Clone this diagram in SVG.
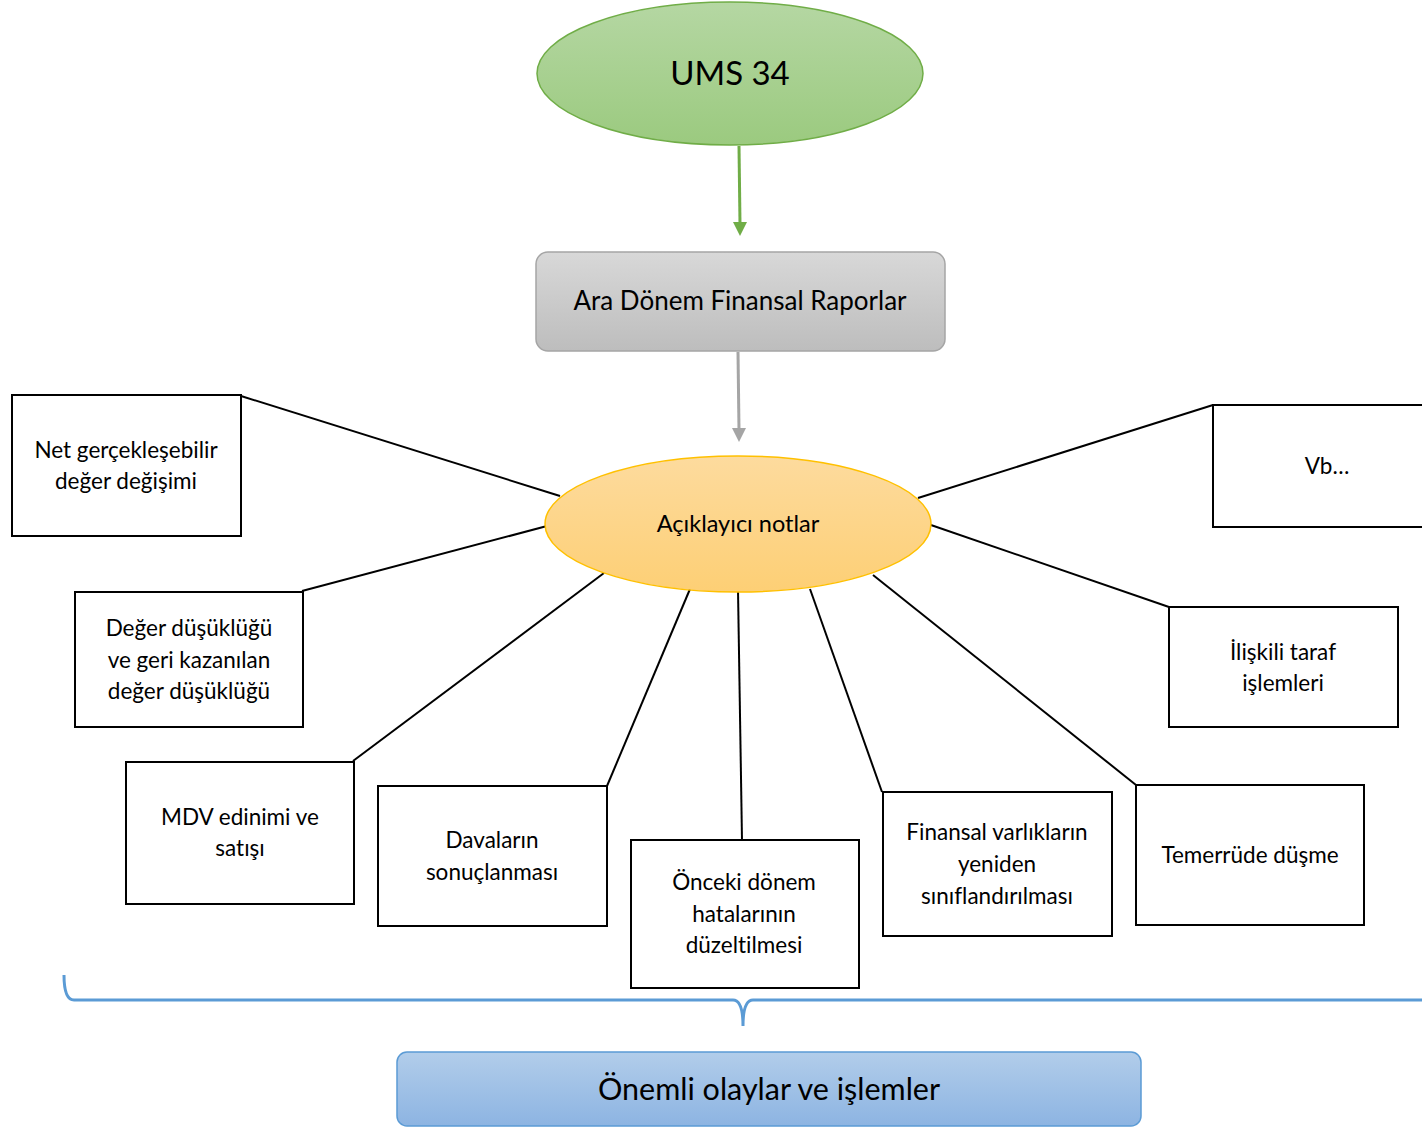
<svg xmlns="http://www.w3.org/2000/svg" width="1422" height="1128" viewBox="0 0 1422 1128">
<style>
text{font-family:Lato,"Open Sans","Noto Sans",sans-serif;fill:#000;text-anchor:middle;font-variant-ligatures:none;font-feature-settings:"liga" 0}
.t{font-size:22.5px}
.box{fill:#fff;stroke:#000;stroke-width:2}
.ln{stroke:#000;stroke-width:2;fill:none}
</style>
<defs>
<linearGradient id="gGreen" x1="0" y1="0" x2="0" y2="1"><stop offset="0" stop-color="#b5d7a3"/><stop offset="1" stop-color="#9bca7f"/></linearGradient>
<linearGradient id="gGray" x1="0" y1="0" x2="0" y2="1"><stop offset="0" stop-color="#d8d8d8"/><stop offset="1" stop-color="#bdbdbd"/></linearGradient>
<linearGradient id="gOrange" x1="0" y1="0" x2="0" y2="1"><stop offset="0" stop-color="#fddb9e"/><stop offset="1" stop-color="#fdcf75"/></linearGradient>
<linearGradient id="gBlue" x1="0" y1="0" x2="0" y2="1"><stop offset="0" stop-color="#b2cdea"/><stop offset="1" stop-color="#8db4e2"/></linearGradient>
</defs>
<g id="connectors">
<line x1="739" y1="146" x2="740" y2="224" stroke="#70ad47" stroke-width="3"/>
<path d="M733,222 L747,222 L740,236 Z" fill="#70ad47"/>
<line x1="738" y1="352" x2="739" y2="430" stroke="#a5a5a5" stroke-width="3"/>
<path d="M732,428 L746,428 L739,442 Z" fill="#a5a5a5"/>
<line class="ln" x1="241" y1="396" x2="560" y2="496"/>
<line class="ln" x1="302" y1="591" x2="547" y2="526"/>
<line class="ln" x1="353" y1="761" x2="604" y2="573"/>
<line class="ln" x1="607" y1="786" x2="690" y2="589"/>
<line class="ln" x1="742" y1="840" x2="738" y2="590"/>
<line class="ln" x1="882" y1="792" x2="810" y2="589"/>
<line class="ln" x1="1136" y1="785" x2="873" y2="575"/>
<line class="ln" x1="1169" y1="607" x2="928" y2="524"/>
<line class="ln" x1="1213" y1="405" x2="918" y2="498"/>
<path d="M64,975 Q64,1000 74,1000 L733,1000 Q743,1000 743,1026 Q743,1000 753,1000 L1422,1000" fill="none" stroke="#5b9bd5" stroke-width="3"/>
</g>
<g id="ums34">
<ellipse cx="730" cy="73.5" rx="193" ry="71.5" fill="url(#gGreen)" stroke="#70ad47" stroke-width="1.5"/>
<text x="730" y="85" style="font-size:33px">UMS 34</text>
</g>
<g id="ara-donem">
<rect x="536" y="252" width="409" height="99" rx="12" fill="url(#gGray)" stroke="#a5a5a5" stroke-width="1.5"/>
<text x="740" y="310" style="font-size:26px">Ara Dönem Finansal Raporlar</text>
</g>
<g id="aciklayici">
<ellipse cx="738" cy="524" rx="193" ry="68" fill="url(#gOrange)" stroke="#ffc000" stroke-width="1.5"/>
<text x="738" y="532" style="font-size:23.5px">Açıklayıcı notlar</text>
</g>
<g id="net">
<rect class="box" x="12" y="395" width="229" height="141"/>
<text class="t" x="126" y="458">Net gerçekleşebilir</text>
<text class="t" x="126" y="489">değer değişimi</text>
</g>
<g id="deger">
<rect class="box" x="75" y="592" width="228" height="135"/>
<text class="t" x="189" y="636">Değer düşüklüğü</text>
<text class="t" x="189" y="668">ve geri kazanılan</text>
<text class="t" x="189" y="699">değer düşüklüğü</text>
</g>
<g id="mdv">
<rect class="box" x="126" y="762" width="228" height="142"/>
<text class="t" x="240" y="825">MDV edinimi ve</text>
<text class="t" x="240" y="856">satışı</text>
</g>
<g id="davalar">
<rect class="box" x="378" y="786" width="229" height="140"/>
<text class="t" x="492" y="848">Davaların</text>
<text class="t" x="492" y="880">sonuçlanması</text>
</g>
<g id="onceki">
<rect class="box" x="631" y="840" width="228" height="148"/>
<text class="t" x="744" y="890">Önceki dönem</text>
<text class="t" x="744" y="922">hatalarının</text>
<text class="t" x="744" y="953">düzeltilmesi</text>
</g>
<g id="finansal">
<rect class="box" x="883" y="792" width="229" height="144"/>
<text class="t" x="997" y="840">Finansal varlıkların</text>
<text class="t" x="997" y="872">yeniden</text>
<text class="t" x="997" y="904">sınıflandırılması</text>
</g>
<g id="temerrude">
<rect class="box" x="1136" y="785" width="228" height="140"/>
<text class="t" x="1250" y="863">Temerrüde düşme</text>
</g>
<g id="iliskili">
<rect class="box" x="1169" y="607" width="229" height="120"/>
<text class="t" x="1283" y="660">İlişkili taraf</text>
<text class="t" x="1283" y="691">işlemleri</text>
</g>
<g id="vb">
<rect class="box" x="1213" y="405" width="230" height="122"/>
<text class="t" x="1327" y="474">Vb…</text>
</g>
<g id="onemli">
<rect x="397" y="1052" width="744" height="74" rx="10" fill="url(#gBlue)" stroke="#5b9bd5" stroke-width="1.5"/>
<text x="769" y="1100" style="font-size:30.5px">Önemli olaylar ve işlemler</text>
</g>
</svg>
